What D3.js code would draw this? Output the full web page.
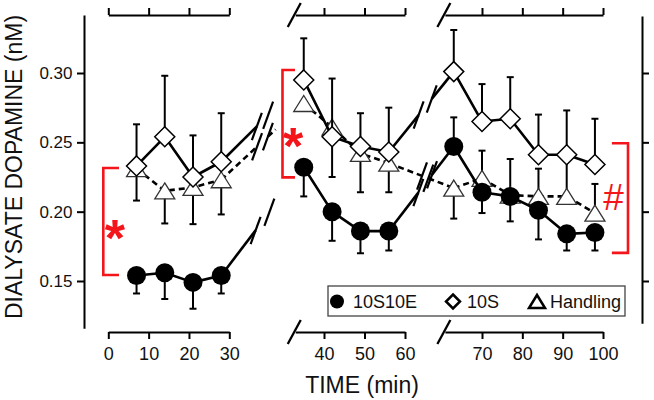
<!DOCTYPE html>
<html><head><meta charset="utf-8">
<script src="https://cdn.jsdelivr.net/npm/d3@7"></script>
<style>body{margin:0;background:#fff}svg{display:block}</style>
</head><body><svg id="c" width="654" height="400"></svg>
<script>
// ---------- data ----------
const times = [7,14,21,28,35,42,49,56,63,70,77,84,91,98];
const seriesNames = ["10S10E","10S","Handling"];
const v10S10E  = [0.154,0.156,0.149,0.154, 0.232,0.200,0.186,0.186, 0.247,0.214,0.211,0.201,0.184,0.185];
const e10S10E  = [0.013,0.019,0.019,0.013, 0.021,0.021,0.016,0.014, 0.021,0.015,0.018,0.021,0.012,0.013];
const dir10S10E= [-1,-1,-1,-1, -1,-1,-1,-1, 1,-1,-1,-1,-1,-1];
const v10S     = [0.233,0.254,0.225,0.236, 0.295,0.254,0.247,0.243, 0.301,0.265,0.267,0.241,0.241,0.234];
const e10S     = [0.030,0.044,0.030,0.035, 0.030,0.042,0.024,0.032, 0.030,0.027,0.030,0.029,0.032,0.033];
const dir10S   = [1,1,1,1, 1,1,1,1, 1,1,1,1,1,1];
const vHand    = [0.231,0.215,0.2175,0.223, 0.278,0.261,0.242,0.235, 0.217,0.224,0.212,0.211,0.211,0.199];
const eHand    = [0.023,0.0235,0.0265,0.025, 0,0.036,0.028,0.021, 0.022,0.020,0.026,0.020,0.027,0.021];
const dirHand  = [-1,-1,-1,-1, 1,-1,-1,-1, -1,1,1,1,1,1];
const segMajor = [[0,10,20,30],[40,50,60],[70,80,90,100]];
const segMinor = [[5,15,25],[35,45,55],[65,75,85,95]];
const segDomain= [[0,30],[32.9,60],[60.8,100]];
const yTicks   = [0.15,0.20,0.25,0.30];
// annotations: [x0 (min), x1 (min), v0, v1]
const brackets = [[-1.24,2.65,0.1543,0.2315],[29.75,32.84,0.2247,0.3022],[106.2,102.2,0.1703,0.2493]];
const annoText = ["*","*","#"];
const annoPos  = [[1.66,0.1889],[32.35,0.2553],[102.6,0.2105]];

// ---------- scales ----------
const svg = d3.select("#c");
const FONT = "Arial, 'Liberation Sans', sans-serif";
const segScale = [
  d3.scaleLinear().domain([0,30]).range([108.3,229.3]),
  d3.scaleLinear().domain([40,60]).range([324,405]),
  d3.scaleLinear().domain([70,100]).range([482,603])
];
function segOf(t){return t<=30?0:(t<=60?1:2);}
function X(t){return segScale[segOf(t)](t);}
const y = d3.scaleLinear().domain([0.15,0.30]).range([281,73]);
const yTop=15, yBot=332;

// ---------- axes ----------
segDomain.forEach((dom,i)=>{
  const sc = segScale[i].copy().domain(dom).range(dom.map(segScale[i]));
  const gb = svg.append("g").attr("transform",`translate(0,${yBot})`);
  gb.call(d3.axisBottom(sc).tickValues(segMinor[i]).tickSize(4).tickSizeOuter(0).tickFormat(""));
  gb.call(d3.axisBottom(sc).tickValues(segMajor[i]).tickSize(7).tickSizeOuter(0).tickFormat(d3.format("d")));
  gb.selectAll("text").attr("y",28).attr("dy",0).style("font-size","18px").style("font-family",FONT).attr("fill","#111");
  const gt = svg.append("g").attr("transform",`translate(0,${yTop})`);
  gt.call(d3.axisTop(sc).tickValues(segMinor[i]).tickSize(4).tickSizeOuter(0).tickFormat(""));
  gt.call(d3.axisTop(sc).tickValues(segMajor[i]).tickSize(7).tickSizeOuter(0).tickFormat(""));
  [gb,gt].forEach(g=>{g.selectAll("path,line").attr("stroke","#000").attr("stroke-width",2);});
  if(i>0){
    const x0 = sc.range()[0]-1;
    [yTop,yBot].forEach(yy=>{
      svg.append("line").attr("x1",x0-6.5).attr("y1",yy+12).attr("x2",x0+6.5).attr("y2",yy-12)
        .attr("stroke","#000").attr("stroke-width",2.3);
    });
  }
});
// left axis
const yL = y.copy().domain([0.1159,0.3418]); yL.range(yL.domain().map(y));
const gl = svg.append("g").attr("transform","translate(84,0)")
  .call(d3.axisLeft(yL).tickValues(yTicks).tickSize(7).tickSizeOuter(0).tickPadding(4.5).tickFormat(d3.format(".2f")));
gl.selectAll("text").style("font-size","17px").style("font-family",FONT).attr("fill","#111");
// right axis
const yR = y.copy().domain([0.1196,0.3411]); yR.range(yR.domain().map(y));
const gr = svg.append("g").attr("transform","translate(642,0)")
  .call(d3.axisRight(yR).tickValues(yTicks).tickSize(7).tickSizeOuter(0).tickFormat(""));
[gl,gr].forEach(g=>g.selectAll("path,line").attr("stroke","#000").attr("stroke-width",2));

// axis titles
svg.append("text").attr("transform","translate(22,167) rotate(-90)").attr("text-anchor","middle")
  .style("font-family",FONT).style("font-size","23px").attr("fill","#111").text("DIALYSATE DOPAMINE (nM)");
svg.append("text").attr("x",362).attr("y",393).attr("text-anchor","middle")
  .style("font-family",FONT).style("font-size","23px").attr("fill","#111").text("TIME (min)");

// ---------- series ----------
const series = [
  {name:seriesNames[2], v:vHand, e:eHand, d:dirHand, dash:"6,4", marker:"tri"},
  {name:seriesNames[0], v:v10S10E, e:e10S10E, d:dir10S10E, dash:null, marker:"circ"},
  {name:seriesNames[1], v:v10S, e:e10S, d:dir10S, dash:null, marker:"dia"}
];
const segIdx = [[0,1,2,3],[4,5,6,7],[8,9,10,11,12,13]];
const HSEP=3.6, MDIR=[0.342,-0.94], MLEN=14.5;
function seg(g,p,q,dash){
  const l=g.append("line").attr("x1",p[0]).attr("y1",p[1]).attr("x2",q[0]).attr("y2",q[1])
    .attr("stroke","#000").attr("stroke-width",2.6);
  if(dash) l.attr("stroke-dasharray",dash);
}
function intersect(A,u,c,m){
  // A + s u = c + r m
  const det = u[0]*(-m[1]) - u[1]*(-m[0]);
  const bx=c[0]-A[0], by=c[1]-A[1];
  const s = (bx*(-m[1]) - by*(-m[0]))/det;
  const r = (u[0]*by - u[1]*bx)/det;
  return {p:[A[0]+s*u[0],A[1]+s*u[1]], r};
}
function breakLine(g,A,B,f,dash,endF){
  const dx=B[0]-A[0], dy=B[1]-A[1], L=Math.hypot(dx,dy), u=[dx/L,dy/L];
  const P=[A[0]+f*dx, A[1]+f*dy];
  const c1=[P[0]-HSEP,P[1]], c2=[P[0]+HSEP,P[1]];
  const I1=intersect(A,u,c1,MDIR), I2=intersect(A,u,c2,MDIR);
  // order along the line
  let [J1,J2] = [I1.p,I2.p];
  if((J1[0]-A[0])*u[0]+(J1[1]-A[1])*u[1] > (J2[0]-A[0])*u[0]+(J2[1]-A[1])*u[1]) [J1,J2]=[J2,J1];
  seg(g,A,J1,dash);
  if(endF>f){ seg(g,J2,[A[0]+endF*dx,A[1]+endF*dy],dash); }
  [I1,I2].forEach(I=>{
    const c=[I.p[0],I.p[1]];
    g.append("line").attr("x1",c[0]-MDIR[0]*MLEN).attr("y1",c[1]-MDIR[1]*MLEN)
      .attr("x2",c[0]+MDIR[0]*MLEN).attr("y2",c[1]+MDIR[1]*MLEN)
      .attr("stroke","#000").attr("stroke-width",2.2);
  });
}
const markerPath = {
  tri:"M0,-8L10,8L-10,8Z",
  dia:"M0,-10L10,0L0,10L-10,0Z"
};
series.forEach(s=>{
  const g = svg.append("g");
  const pts = times.map((t,i)=>({t, v:s.v[i], e:s.e[i], d:s.d[i]}));
  // error bars
  pts.filter(p=>p.e>0).forEach(p=>{
    const x=X(p.t), y0=y(p.v), y1=y(p.v+p.d*p.e);
    g.append("line").attr("x1",x).attr("x2",x).attr("y1",y0).attr("y2",y1).attr("stroke","#000").attr("stroke-width",2);
    g.append("line").attr("x1",x-3.5).attr("x2",x+3.5).attr("y1",y1).attr("y2",y1).attr("stroke","#000").attr("stroke-width",2);
  });
  // lines inside segments
  const line = d3.line().x(p=>X(p.t)).y(p=>y(p.v));
  segIdx.forEach(ix=>{
    const pth=g.append("path").attr("d",line(ix.map(i=>pts[i]))).attr("fill","none")
      .attr("stroke","#000").attr("stroke-width",2.6).attr("stroke-linejoin","round");
    if(s.dash) pth.attr("stroke-dasharray",s.dash);
  });
  // transitions
  const pt = i=>[X(pts[i].t), y(pts[i].v)];
  breakLine(g, pt(3), pt(4), 0.5, s.dash, s.dash?0.66:0);
  breakLine(g, pt(7), pt(8), 0.56, s.dash, 1);
  // markers
  pts.forEach(p=>{
    const x=X(p.t), yy=y(p.v);
    if(s.marker==="circ"){
      g.append("circle").attr("cx",x).attr("cy",yy).attr("r",9.5).attr("fill","#000");
    } else if(s.marker==="dia"){
      g.append("path").attr("d",markerPath.dia).attr("transform",`translate(${x},${yy})`)
        .attr("fill","#fff").attr("stroke","#000").attr("stroke-width",1.5);
    } else {
      g.append("path").attr("d",markerPath.tri).attr("transform",`translate(${x},${yy})`)
        .attr("fill","#fff").attr("stroke","#333").attr("stroke-width",1.3);
    }
  });
});

// ---------- annotations ----------
const RED="#f4151b";
brackets.forEach((b,i)=>{
  const sc = segScale[i];
  const xa=sc(b[0]), xb=sc(b[1]), ya=y(b[2]), yb=y(b[3]);
  svg.append("path").attr("d",`M${xb},${yb}H${xa}V${ya}H${xb}`).attr("fill","none")
    .attr("stroke",RED).attr("stroke-width",2.6);
});
annoPos.forEach((a,i)=>{
  const sc=segScale[i];
  const isStar = annoText[i]==="*";
  const fs = isStar?52:37;
  svg.append("text").attr("x",sc(a[0])).attr("y",y(a[1]) + (isStar?0.56*fs:13)).attr("text-anchor","middle")
    .style("font-family",FONT).style("font-size",fs+"px").style("font-weight",isStar?"bold":"normal")
    .attr("fill",RED).text(annoText[i]);
});

// ---------- legend ----------
const lg = svg.append("g");
lg.append("rect").attr("x",328).attr("y",286).attr("width",297).attr("height",30)
  .attr("fill","#fff").attr("stroke","#444").attr("stroke-width",1.3);
const legX = [337,453,537], legTX=[353,467,550];
const legOrder = [0,1,2];
legOrder.forEach((k,i)=>{
  const cx=legX[i], cy=301.5;
  if(k===0) lg.append("circle").attr("cx",cx).attr("cy",cy).attr("r",7).attr("fill","#000");
  if(k===1) lg.append("path").attr("d","M0,-7L7,0L0,7L-7,0Z").attr("transform",`translate(${cx},${cy})`)
      .attr("fill","#fff").attr("stroke","#000").attr("stroke-width",2.5);
  if(k===2) lg.append("path").attr("d","M0,-6.5L8,6.5L-8,6.5Z").attr("transform",`translate(${cx},${cy})`)
      .attr("fill","#fff").attr("stroke","#000").attr("stroke-width",2.5);
  lg.append("text").attr("x",legTX[i]).attr("y",308).style("font-family",FONT).style("font-size","18px")
    .attr("fill","#111").text(seriesNames[k]);
});
</script></body></html>
